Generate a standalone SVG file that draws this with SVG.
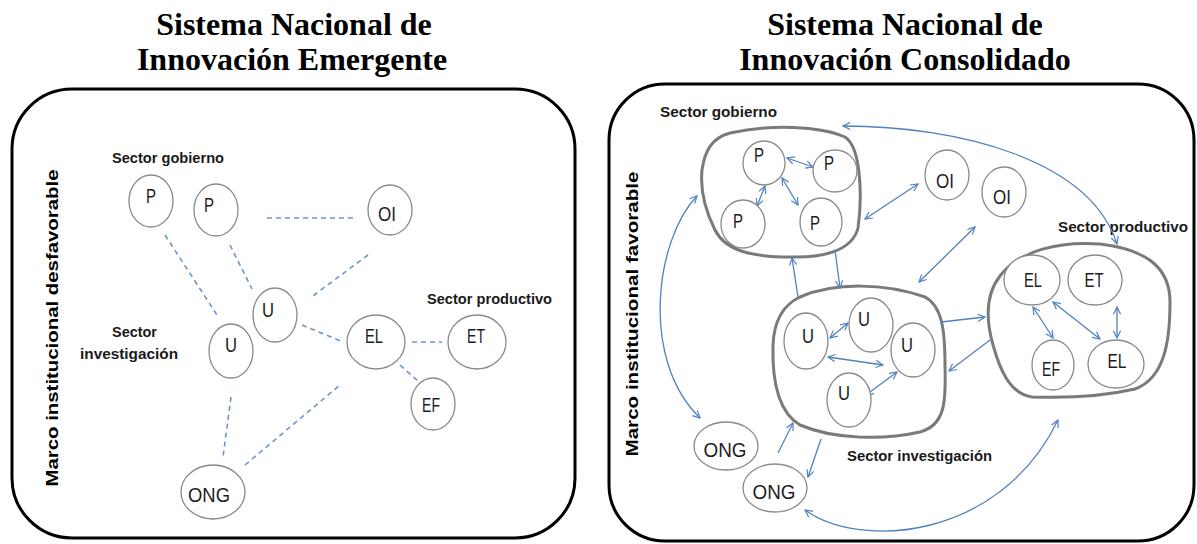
<svg xmlns="http://www.w3.org/2000/svg" width="1197" height="544" viewBox="0 0 1197 544">
<style>
.title{font-family:"Liberation Serif","Times New Roman",serif;font-weight:bold;font-size:32px;fill:#000;text-anchor:middle}
.panel{fill:#fff;stroke:#000;stroke-width:3}
.node{fill:#fff;stroke:#8a8a8a;stroke-width:1.3}
.blob{fill:none;stroke:#7a7a7a;stroke-width:3;stroke-linejoin:round}
.lbl{font-family:"Liberation Sans",Arial,sans-serif;font-size:21px;fill:#1c1c24;text-anchor:middle}
.sec{font-family:"Liberation Sans",Arial,sans-serif;font-size:15px;font-weight:bold;fill:#1a1a1a}
.vert{font-family:"Liberation Sans",Arial,sans-serif;font-size:16px;font-weight:bold;fill:#000;text-anchor:middle}
.dash{fill:none;stroke:#6b95cd;stroke-width:1.6;stroke-dasharray:5 4}
.arr{fill:none;stroke:#4f81bd;stroke-width:1.3;marker-end:url(#ah)}
.arr2{fill:none;stroke:#4f81bd;stroke-width:1.3;marker-end:url(#ah);marker-start:url(#ah)}
</style>
<defs>
<marker id="ah" viewBox="0 0 10 10" refX="9" refY="5" markerWidth="9" markerHeight="9" markerUnits="userSpaceOnUse" orient="auto-start-reverse">
<path d="M1,1 L9,5 L1,9" fill="none" stroke="#4f81bd" stroke-width="1.3"/>
</marker>
</defs>
<rect width="1197" height="544" fill="#fff"/>

<g id="titles">
<text class="title" x="294" y="35">Sistema Nacional de</text>
<text class="title" x="292" y="70">Innovación Emergente</text>
<text class="title" x="905" y="35">Sistema Nacional de</text>
<text class="title" x="905" y="70">Innovación Consolidado</text>
</g>

<g id="panel-left">
<rect class="panel" x="12" y="89" width="563" height="449" rx="60" ry="60"/>
<text class="vert" transform="translate(58,328) rotate(-90)" textLength="317" lengthAdjust="spacingAndGlyphs">Marco institucional desfavorable</text>
<text class="sec" x="112" y="163" textLength="112" lengthAdjust="spacingAndGlyphs">Sector gobierno</text>
<text class="sec" x="427" y="304" textLength="125" lengthAdjust="spacingAndGlyphs">Sector productivo</text>
<text class="sec" x="112" y="337" textLength="45" lengthAdjust="spacingAndGlyphs">Sector</text>
<text class="sec" x="80" y="359" textLength="98" lengthAdjust="spacingAndGlyphs">investigación</text>
</g>

<g id="panel-right">
<rect class="panel" x="609" y="84" width="585" height="457" rx="56" ry="56"/>
<text class="vert" transform="translate(638,314) rotate(-90)" textLength="285" lengthAdjust="spacingAndGlyphs">Marco institucional favorable</text>
<text class="sec" x="660" y="117" textLength="117" lengthAdjust="spacingAndGlyphs">Sector gobierno</text>
<text class="sec" x="1058" y="232" textLength="130" lengthAdjust="spacingAndGlyphs">Sector productivo</text>
<text class="sec" x="847" y="461" textLength="145" lengthAdjust="spacingAndGlyphs">Sector investigación</text>
</g>

<g id="left-connectors">
<line class="dash" x1="165" y1="235" x2="217" y2="315"/>
<line class="dash" x1="230" y1="245" x2="252" y2="289"/>
<line class="dash" x1="267" y1="218" x2="354" y2="218"/>
<line class="dash" x1="368" y1="255" x2="310" y2="298"/>
<line class="dash" x1="302" y1="325" x2="343" y2="342"/>
<line class="dash" x1="412" y1="342" x2="442" y2="342"/>
<line class="dash" x1="400" y1="365" x2="419" y2="382"/>
<line class="dash" x1="231" y1="397" x2="223" y2="457"/>
<line class="dash" x1="245" y1="465" x2="340" y2="385"/>
</g>

<g id="left-nodes">
<g id="l-p1"><ellipse class="node" cx="151" cy="201" rx="22" ry="26"/><text class="lbl" x="151" y="203" textLength="10" lengthAdjust="spacingAndGlyphs">P</text></g>
<g id="l-p2"><ellipse class="node" cx="216" cy="210" rx="22" ry="26"/><text class="lbl" x="209" y="212" textLength="10" lengthAdjust="spacingAndGlyphs">P</text></g>
<g id="l-oi"><ellipse class="node" cx="390" cy="210" rx="22" ry="25"/><text class="lbl" x="387" y="221" textLength="18" lengthAdjust="spacingAndGlyphs">OI</text></g>
<g id="l-u1"><ellipse class="node" cx="275" cy="315" rx="22" ry="27"/><text class="lbl" x="268" y="317" textLength="12" lengthAdjust="spacingAndGlyphs">U</text></g>
<g id="l-u2"><ellipse class="node" cx="231" cy="351" rx="22" ry="27"/><text class="lbl" x="231" y="352" textLength="12" lengthAdjust="spacingAndGlyphs">U</text></g>
<g id="l-el"><ellipse class="node" cx="376" cy="342" rx="29" ry="27"/><text class="lbl" x="374" y="343" textLength="18" lengthAdjust="spacingAndGlyphs">EL</text></g>
<g id="l-et"><ellipse class="node" cx="477" cy="342" rx="29" ry="27"/><text class="lbl" x="476" y="343" textLength="18" lengthAdjust="spacingAndGlyphs">ET</text></g>
<g id="l-ef"><ellipse class="node" cx="433" cy="404" rx="22" ry="26"/><text class="lbl" x="431" y="412" textLength="18" lengthAdjust="spacingAndGlyphs">EF</text></g>
<g id="l-ong"><ellipse class="node" cx="213" cy="492" rx="32" ry="27"/><text class="lbl" x="209" y="502" textLength="42" lengthAdjust="spacingAndGlyphs">ONG</text></g>
</g>

<g id="right-blobs">
<path id="blob-gobierno" class="blob" d="M730,133 C770,124 820,126 845,137 C862,148 862,200 858,228 C852,252 820,258 790,257 C750,257 725,250 715,230 C705,210 700,190 702,170 C705,150 712,138 730,133 Z"/>
<path id="blob-investigacion" class="blob" d="M800,297 C835,282 885,283 925,297 C942,306 945,330 945,365 C946,400 946,425 920,432 C885,440 835,440 800,425 C778,412 772,380 773,345 C774,320 783,305 800,297 Z"/>
<path id="blob-productivo" class="blob" d="M1000,276 C1020,250 1060,241 1100,244 C1150,250 1170,270 1170,302 C1170,340 1165,378 1135,389 C1100,397 1060,398 1032,397 C1010,394 1000,370 993,345 C986,320 985,295 1000,276 Z"/>
</g>

<g id="right-connectors">
<line class="arr2" x1="787" y1="158" x2="813" y2="167"/>
<line class="arr2" x1="765" y1="186" x2="757" y2="206"/>
<line class="arr2" x1="782" y1="178" x2="798" y2="205"/>
<path class="arr2" d="M843,126 C960,126 1090,160 1117,244"/>
<line class="arr2" x1="918" y1="184" x2="865" y2="219"/>
<line class="arr" x1="798" y1="297" x2="792" y2="258"/>
<line class="arr" x1="835" y1="250" x2="840" y2="288"/>
<line class="arr2" x1="975" y1="227" x2="919" y2="282"/>
<line class="arr2" x1="830" y1="338" x2="848" y2="323"/>
<line class="arr2" x1="828" y1="357" x2="883" y2="365"/>
<line class="arr2" x1="866" y1="395" x2="897" y2="372"/>
<line class="arr2" x1="1033" y1="307" x2="1053" y2="338"/>
<line class="arr2" x1="1053" y1="302" x2="1100" y2="339"/>
<line class="arr2" x1="1117" y1="307" x2="1117" y2="338"/>
<line class="arr" x1="941" y1="322" x2="985" y2="317"/>
<line class="arr" x1="990" y1="340" x2="949" y2="371"/>
<line class="arr" x1="778" y1="453" x2="793" y2="423"/>
<line class="arr" x1="821" y1="439" x2="808" y2="477"/>
<path class="arr2" d="M697,196 C655,240 640,360 700,418"/>
<path class="arr2" d="M805,510 C860,550 1000,540 1058,420"/>
</g>

<g id="right-nodes">
<g id="r-p1"><ellipse class="node" cx="764" cy="163" rx="21" ry="22"/><text class="lbl" x="759" y="162" textLength="10" lengthAdjust="spacingAndGlyphs">P</text></g>
<g id="r-p2"><ellipse class="node" cx="835" cy="171" rx="22" ry="21"/><text class="lbl" x="829" y="170" textLength="10" lengthAdjust="spacingAndGlyphs">P</text></g>
<g id="r-p3"><ellipse class="node" cx="743" cy="224" rx="22" ry="24"/><text class="lbl" x="738" y="228" textLength="10" lengthAdjust="spacingAndGlyphs">P</text></g>
<g id="r-p4"><ellipse class="node" cx="821" cy="222" rx="21" ry="24"/><text class="lbl" x="815" y="230" textLength="10" lengthAdjust="spacingAndGlyphs">P</text></g>
<g id="r-oi1"><ellipse class="node" cx="947" cy="175" rx="22" ry="25"/><text class="lbl" x="945" y="188" textLength="18" lengthAdjust="spacingAndGlyphs">OI</text></g>
<g id="r-oi2"><ellipse class="node" cx="1004" cy="192" rx="22" ry="25"/><text class="lbl" x="1002" y="204" textLength="18" lengthAdjust="spacingAndGlyphs">OI</text></g>
<g id="r-u1"><ellipse class="node" cx="806" cy="341" rx="22" ry="28"/><text class="lbl" x="808" y="343" textLength="12" lengthAdjust="spacingAndGlyphs">U</text></g>
<g id="r-u2"><ellipse class="node" cx="871" cy="325" rx="22" ry="27"/><text class="lbl" x="864" y="326" textLength="12" lengthAdjust="spacingAndGlyphs">U</text></g>
<g id="r-u3"><ellipse class="node" cx="913" cy="350" rx="22" ry="27"/><text class="lbl" x="907" y="352" textLength="12" lengthAdjust="spacingAndGlyphs">U</text></g>
<g id="r-u4"><ellipse class="node" cx="849" cy="400" rx="22" ry="27"/><text class="lbl" x="844" y="400" textLength="12" lengthAdjust="spacingAndGlyphs">U</text></g>
<g id="r-el1"><ellipse class="node" cx="1032" cy="280" rx="28" ry="25"/><text class="lbl" x="1033" y="287" textLength="18" lengthAdjust="spacingAndGlyphs">EL</text></g>
<g id="r-et"><ellipse class="node" cx="1095" cy="280" rx="27" ry="25"/><text class="lbl" x="1094" y="287" textLength="19" lengthAdjust="spacingAndGlyphs">ET</text></g>
<g id="r-ef"><ellipse class="node" cx="1053" cy="365" rx="21" ry="25"/><text class="lbl" x="1051" y="376" textLength="18" lengthAdjust="spacingAndGlyphs">EF</text></g>
<g id="r-el2"><ellipse class="node" cx="1116" cy="364" rx="28" ry="24"/><text class="lbl" x="1117" y="368" textLength="19" lengthAdjust="spacingAndGlyphs">EL</text></g>
<g id="r-ong1"><ellipse class="node" cx="726" cy="446" rx="32" ry="24"/><text class="lbl" x="725" y="457" textLength="43" lengthAdjust="spacingAndGlyphs">ONG</text></g>
<g id="r-ong2"><ellipse class="node" cx="775" cy="488" rx="32" ry="24"/><text class="lbl" x="774" y="499" textLength="43" lengthAdjust="spacingAndGlyphs">ONG</text></g>
</g>
</svg>
